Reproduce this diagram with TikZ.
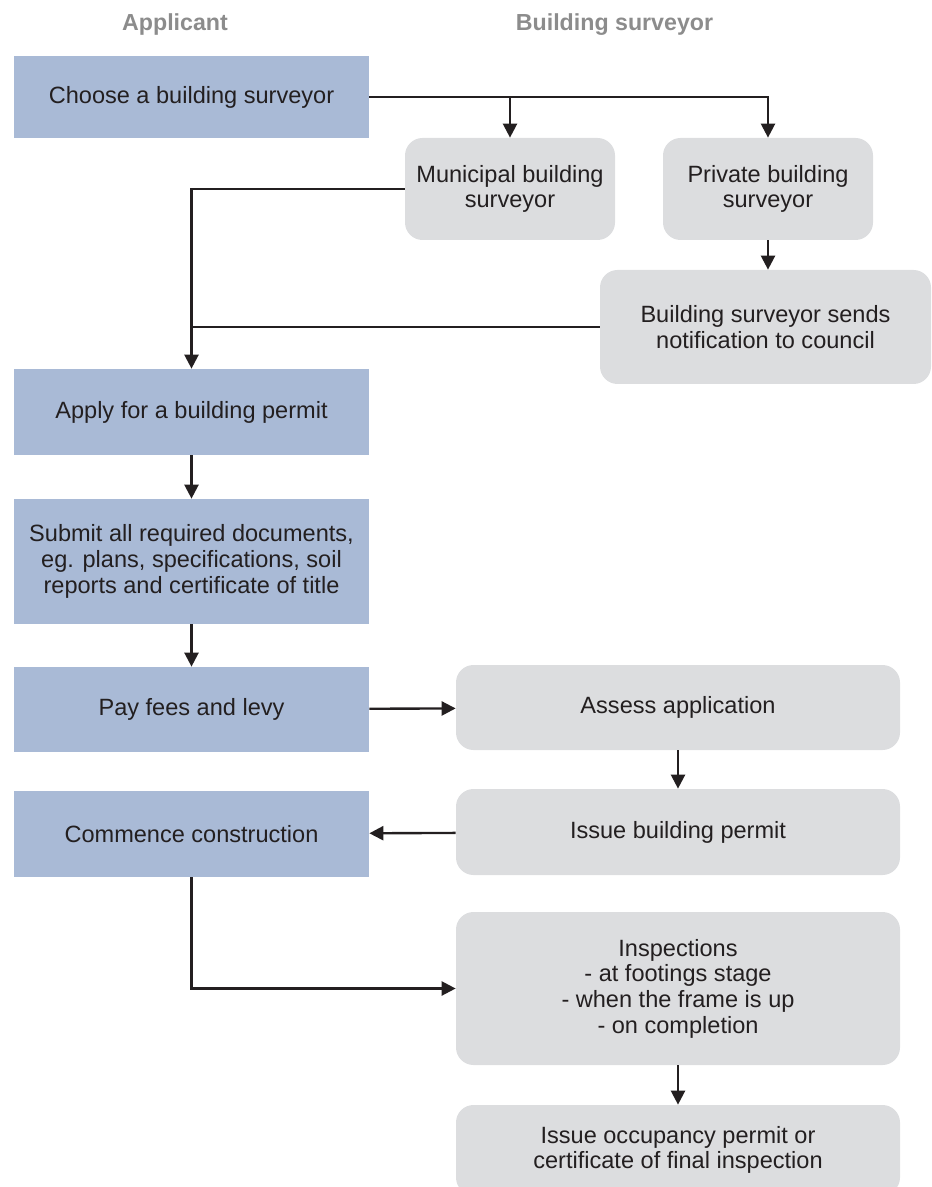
\documentclass[tikz,border=0pt]{standalone}
\usepackage{fontspec}
\setmainfont{Liberation Sans}
\usetikzlibrary{arrows.meta,positioning,calc}
\definecolor{bluenode}{HTML}{A9BAD6}
\definecolor{graynode}{HTML}{DCDDDF}
\definecolor{lanegray}{HTML}{8C8C8C}
\definecolor{inkblack}{HTML}{231F20}
\tikzset{
       arr/.style = {-{Triangle[length=8pt,width=8pt]}, line width=1.35pt, draw=inkblack},   % <--- arrow heads
      conn/.style = {line width=1.35pt, draw=inkblack},
      base/.style = {minimum height=1.7cm, align=center, text=inkblack, inner sep=0pt,
                     font=\fontsize{13.4}{14.6}\selectfont},
 applicant/.style = {base, rectangle, fill=bluenode, minimum width=7.1cm},
  surveyor/.style = {base, rounded corners=0.35cm, fill=graynode},    %, draw=none
      lane/.style = {font=\bfseries\fontsize{13.2}{15}\selectfont, text=lanegray},
}

\begin{document}
\begin{tikzpicture}
\useasboundingbox (0,0) rectangle (18.62,-23.74);
% lane titles
\node[lane] (hApp) at (3.5,-0.5) {Applicant};
\node[lane] (hSur) at (12.29,-0.5) {Building surveyor};
% applicant column
\node[applicant, minimum height=1.64cm] (choose) at (3.83,-1.94) {Choose a building surveyor};
\node[applicant, minimum height=1.72cm] (apply) at (3.83,-8.24) {Apply for a building permit};
\node[applicant, minimum height=2.5cm] (submit) at (3.83,-11.23)
    {Submit all required documents,\\eg. plans, specifications, soil\\reports and certificate of title};
\node[applicant] (pay) at (3.83,-14.19) {Pay fees and levy};
\node[applicant, minimum height=1.72cm] (commence) at (3.83,-16.68) {Commence construction};
% surveyor column
\node[surveyor, minimum width=4.2cm, minimum height=2.04cm] (municipal) at (10.2,-3.78) {Municipal building\\surveyor};
\node[surveyor, minimum width=4.2cm, minimum height=2.04cm] (private) at (15.36,-3.78) {Private building\\surveyor};
\node[surveyor, minimum width=6.62cm, minimum height=2.28cm] (notify) at (15.31,-6.54)
    {Building surveyor sends\\notification to council};
\node[surveyor, minimum width=8.88cm] (assess) at (13.56,-14.15) {Assess application};
\node[surveyor, minimum width=8.88cm, minimum height=1.72cm] (issue) at (13.56,-16.64) {Issue building permit};
\node[surveyor, minimum width=8.88cm, minimum height=3.06cm] (inspect) at (13.56,-19.77)
    {Inspections\\- at footings stage\\- when the frame is up\\- on completion};
\node[surveyor, minimum width=8.88cm, minimum height=1.8cm] (occupy) at (13.56,-23.0)
    {Issue occupancy permit or\\certificate of final inspection};
% connectors
\draw[arr] (choose.east) -| (private.north);
\draw[arr] (choose.east -| municipal.north) -- (municipal.north);
\draw[arr] (municipal.west) -| (apply.north);
\draw[conn] (notify.west) -- (notify.west -| apply.north);
\draw[arr] (private.south) -- (private.south |- notify.north);
\draw[arr] (apply) -- (submit);
\draw[arr] (submit) -- (pay);
\draw[arr] (pay) -- (assess);
\draw[arr] (assess) -- (issue);
\draw[arr] (issue) -- (commence);
\draw[arr] (commence.south) |- (inspect.west);
\draw[arr] (inspect) -- (occupy);
\end{tikzpicture}
\end{document}
